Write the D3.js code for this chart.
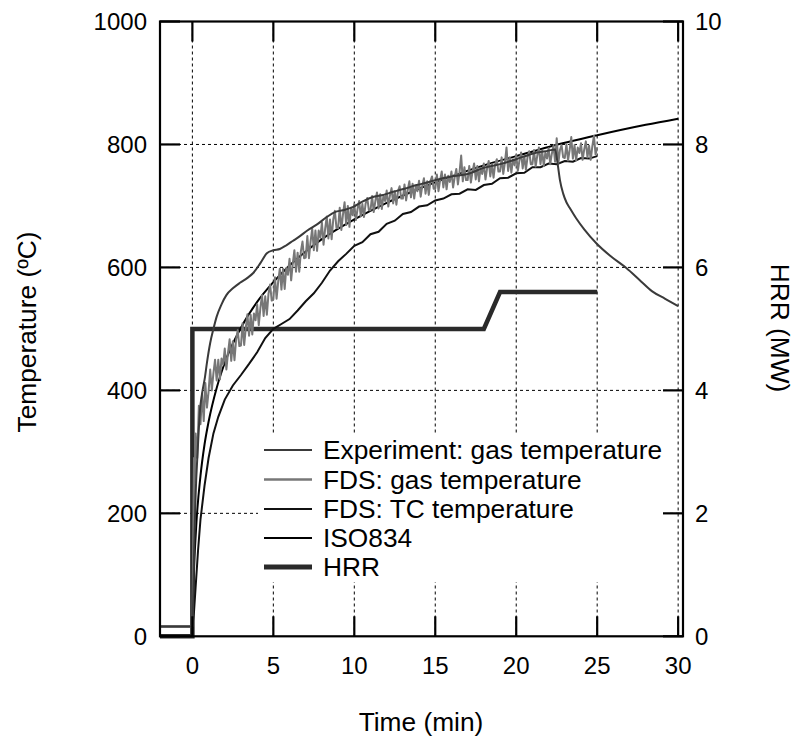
<!DOCTYPE html>
<html><head><meta charset="utf-8">
<script src="https://cdn.jsdelivr.net/npm/d3@7"></script>
<style>body{margin:0;background:#fff}svg{display:block}text{font-family:"Liberation Sans",Arial,sans-serif}</style>
</head><body><svg id="c" width="797" height="736"></svg>
<script>
// ---------- data ----------
const xTicks = [0, 5, 10, 15, 20, 25, 30];
const tempTicks = [0, 200, 400, 600, 800, 1000];
const hrrTicks = [0, 2, 4, 6, 8, 10];
const legendLabels = ["Experiment: gas temperature", "FDS: gas temperature", "FDS: TC temperature", "ISO834", "HRR"];

const expTime = [-2, 0, 0.05, 0.1, 0.2, 0.33, 0.47, 0.6, 0.78, 0.9, 1.1, 1.3, 1.5, 1.8, 2.1, 2.5, 2.94, 3.4, 3.76, 4.2, 4.6, 5.0, 5.4, 5.8, 6.2, 6.6, 7.1, 7.7, 8.3, 8.8, 9.3, 9.9, 10.5, 11.2, 11.8, 12.4, 13.1, 13.85, 14.5, 15, 16, 17, 18, 19, 20, 21, 22, 22.4, 22.55, 22.7, 22.9, 23.1, 23.3, 23.7, 24.2, 24.96, 25.8, 26.8, 27.6, 28.4, 29.2, 30];
const expTemp = [16, 16, 60, 130, 230, 303, 368, 395, 422, 445, 477, 500, 520, 540, 555, 566, 575, 583, 591, 607, 623, 628, 630, 636, 643, 650, 660, 670, 682, 690, 693, 698, 707, 715, 718, 723, 728, 734, 738, 742, 748, 752, 762, 768, 776, 785, 790, 792, 770, 742, 720, 706, 697, 680, 662, 639, 619, 599, 580, 561, 549, 537];

const fdsGasEarlyTime = [-2, 0, 0.05, 0.1, 0.15];
const fdsGasEarlyTemp = [16, 16, 160, 290, 250];
const fdsGasStart = 0.2, fdsGasStep = 0.1; // regular output interval of the simulation (min)
const fdsGasTemp = [
  330, 290, 375, 345, 395, 350, 412, 372,
  398, 434, 400, 428, 450, 416, 450, 418, 452, 442,
  468, 434, 461, 483, 448, 480, 449, 483, 498, 472,
  473, 509, 474, 502, 524, 489, 523, 491, 525, 514,
  540, 506, 534, 555, 521, 553, 523, 557, 572, 546,
  548, 584, 549, 577, 598, 564, 598, 565, 599, 588,
  614, 579, 606, 628, 593, 624, 593, 626, 642, 615,
  616, 651, 615, 642, 663, 628, 660, 627, 660, 648,
  673, 637, 663, 683, 647, 678, 646, 678, 692, 664,
  664, 697, 661, 686, 706, 669, 700, 666, 697, 685,
  703, 677, 695, 708, 683, 703, 682, 704, 713, 693,
  693, 716, 690, 708, 722, 696, 719, 695, 717, 708,
  725, 699, 717, 729, 704, 724, 702, 724, 732, 712,
  712, 735, 709, 726, 740, 714, 736, 712, 733, 724,
  741, 715, 733, 745, 720, 740, 718, 740, 748, 728,
  728, 751, 724, 742, 756, 730, 751, 727, 749, 739,
  756, 730, 747, 760, 735, 755, 782, 740, 763, 742,
  742, 765, 738, 756, 769, 743, 765, 740, 762, 752,
  769, 743, 761, 773, 748, 768, 746, 768, 776, 756,
  756, 779, 752, 770, 795, 757, 779, 754, 776, 766,
  783, 757, 774, 787, 761, 781, 759, 780, 789, 768,
  768, 791, 764, 782, 795, 768, 790, 765, 787, 777,
  794, 768, 785, 798, 772, 810, 769, 791, 799, 779,
  778, 800, 774, 791, 812, 777, 799, 774, 795, 786,
  802, 775, 792, 805, 779, 798, 775, 797, 814, 784,
  795];

const tcTime = [-2, 0, 0.1, 0.2, 0.35, 0.5, 0.75, 1.0, 1.3, 1.6, 2.0, 2.5, 3.0, 3.5, 4.0, 4.5, 5.0, 5.5, 6.0, 6.5, 7.0, 7.5, 8.0, 8.5, 9.0, 9.5, 10, 10.5, 11, 11.5, 12, 12.5, 13, 13.5, 14, 14.5, 15, 15.5, 16, 16.5, 17, 17.5, 18, 18.5, 19, 19.5, 20, 20.5, 21, 21.5, 22, 22.5, 23, 23.5, 24, 24.5, 25];
const tcTemp = [16, 16, 40, 80, 140, 190, 245, 290, 330, 357, 385, 408, 425, 443, 462, 485, 500, 508, 516, 530, 545, 558, 575, 595, 610, 622, 635, 641, 654, 658, 671, 676, 687, 690, 699, 701, 709, 712, 719, 720, 727, 726, 734, 736, 745, 746, 753, 754, 763, 763, 769, 768, 773, 772, 778, 777, 781];

const isoTime = [0, 0.1, 0.25, 0.5, 0.75, 1, 1.5, 2, 3, 4, 5, 6, 7, 8, 10, 12, 14, 16, 18, 20, 22, 25, 28, 30];
const isoTemp = [20, 108, 185, 261, 312, 349, 404, 445, 502, 544, 576, 603, 626, 646, 678, 705, 728, 748, 766, 781, 796, 815, 832, 842];

const hrrTime = [-2, 0, 0, 18, 19, 25];
const hrrValue = [0, 0, 5, 5, 5.6, 5.6];

// ---------- layout ----------
const svg = d3.select("#c");
const L = 160, R = 683, T = 21.5, B = 636.3;
const x = d3.scaleLinear().domain([-2, 30.3]).range([L, R]);
const yT = d3.scaleLinear().domain([0, 1000]).range([B, T]);
const yH = d3.scaleLinear().domain([0, 10]).range([B, T]);

// grid
const grid = svg.append("g").attr("stroke", "#000").attr("stroke-width", 1).attr("stroke-dasharray", "3,3");
grid.selectAll("line.v").data(xTicks).join("line")
  .attr("x1", d => x(d)).attr("x2", d => x(d)).attr("y1", T).attr("y2", B);
grid.selectAll("line.h").data(tempTicks.filter(d => d > 0 && d < 1000)).join("line").attr("class","h")
  .attr("x1", L).attr("x2", R).attr("y1", d => yT(d)).attr("y2", d => yT(d));

// legend background
svg.append("rect").attr("x", 258).attr("y", 433).attr("width", 412).attr("height", 149).attr("fill", "#fff");

// series
const zip = (a, b) => a.map((v, i) => [v, b[i]]);
const lineT = d3.line().x(d => x(d[0])).y(d => yT(d[1]));
const lineTs = d3.line().x(d => x(d[0])).y(d => yT(d[1])).curve(d3.curveMonotoneX);
const lineH = d3.line().x(d => x(d[0])).y(d => yH(d[1]));

const fdsGas = zip(fdsGasEarlyTime, fdsGasEarlyTemp).concat(fdsGasTemp.map((v, i) => [fdsGasStart + i * fdsGasStep, v]));

svg.append("path").datum(zip(hrrTime, hrrValue)).attr("d", lineH)
  .attr("fill", "none").attr("stroke", "#2a2a2a").attr("stroke-width", 4.5).attr("stroke-linejoin", "miter");
svg.append("path").datum(zip(tcTime, tcTemp)).attr("d", lineT)
  .attr("fill", "none").attr("stroke", "#111").attr("stroke-width", 2);
svg.append("path").datum(zip(isoTime, isoTemp)).attr("d", lineTs)
  .attr("fill", "none").attr("stroke", "#000").attr("stroke-width", 2);
svg.append("path").datum(fdsGas).attr("d", lineT)
  .attr("fill", "none").attr("stroke", "#777").attr("stroke-width", 2).attr("stroke-linejoin", "round");
svg.append("path").datum(zip(expTime, expTemp)).attr("d", lineTs)
  .attr("fill", "none").attr("stroke", "#3a3a3a").attr("stroke-width", 2);

// axes frame
const ax = svg.append("g").attr("stroke", "#000").attr("stroke-width", 2.2);
ax.append("rect").attr("x", L).attr("y", T).attr("width", R - L).attr("height", B - T).attr("fill", "none");
ax.selectAll("line.xb").data(xTicks).join("line").attr("class","xb")
  .attr("x1", d => x(d)).attr("x2", d => x(d)).attr("y1", B).attr("y2", B - 20);
ax.selectAll("line.xt").data(xTicks).join("line").attr("class","xt")
  .attr("x1", d => x(d)).attr("x2", d => x(d)).attr("y1", T).attr("y2", T + 20);
ax.selectAll("line.yl").data(tempTicks).join("line").attr("class","yl")
  .attr("x1", L).attr("x2", L + 20).attr("y1", d => yT(d)).attr("y2", d => yT(d));
ax.selectAll("line.yr").data(hrrTicks).join("line").attr("class","yr")
  .attr("x1", R - 20).attr("x2", R).attr("y1", d => yH(d)).attr("y2", d => yH(d));

// tick labels
const fs = 24, fsBig = 26.3;
svg.append("g").selectAll("text").data(xTicks).join("text")
  .attr("x", d => x(d)).attr("y", 673.5).attr("text-anchor", "middle").attr("font-size", fs).text(d => d);
svg.append("g").selectAll("text").data(tempTicks).join("text")
  .attr("x", 147).attr("y", d => yT(d) + 8.5).attr("text-anchor", "end").attr("font-size", fs).text(d => d);
svg.append("g").selectAll("text").data(hrrTicks).join("text")
  .attr("x", 695).attr("y", d => yH(d) + 8.5).attr("text-anchor", "start").attr("font-size", fs).text(d => d);

// axis titles
svg.append("text").attr("x", 421).attr("y", 731).attr("text-anchor", "middle").attr("font-size", fsBig).text("Time (min)");
svg.append("text").attr("transform", "translate(36,332) rotate(-90)").attr("text-anchor", "middle").attr("font-size", fsBig).text("Temperature (ºC)");
svg.append("text").attr("transform", "translate(771,328) rotate(90)").attr("text-anchor", "middle").attr("font-size", fsBig).text("HRR (MW)");

// legend
const legStroke = ["#3a3a3a", "#777", "#111", "#000", "#2a2a2a"];
const legWidth = [2, 2.5, 2, 2, 5];
const legY = [450, 479.5, 509, 538, 567];
const lg = svg.append("g");
legendLabels.forEach((lab, i) => {
  lg.append("line").attr("x1", 264).attr("x2", 312).attr("y1", legY[i]).attr("y2", legY[i])
    .attr("stroke", legStroke[i]).attr("stroke-width", legWidth[i]);
  lg.append("text").attr("x", 323).attr("y", legY[i] + 9.2).attr("font-size", fsBig).text(lab);
});
</script></body></html>
